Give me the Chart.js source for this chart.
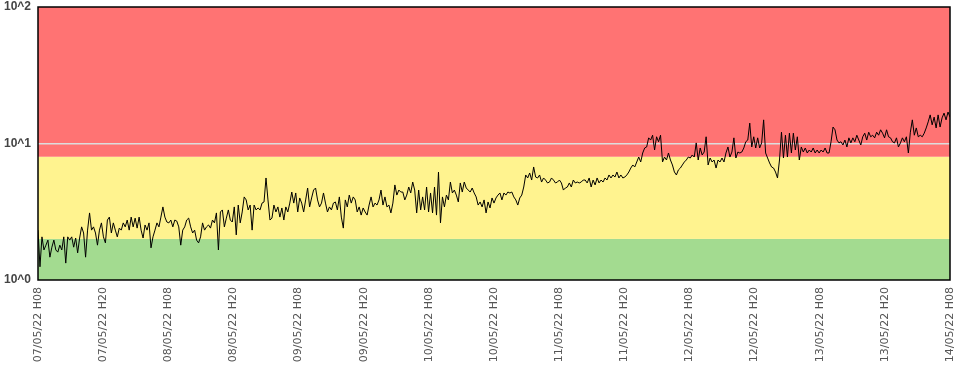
<!DOCTYPE html>
<html>
<head>
<meta charset="utf-8">
<script src="https://cdn.jsdelivr.net/npm/chart.js@4.4.1/dist/chart.umd.min.js"></script>
<style>
  html, body { margin: 0; padding: 0; background: #fff; }
  #wrap { width: 961px; height: 371px; }
</style>
</head>
<body>
<div id="wrap"><canvas id="myChart" width="961" height="371"></canvas></div>
<script>
// x axis: 7 days, a tick every 12 hours
const tickLabels = [
  '07/05/22 H08', '07/05/22 H20', '08/05/22 H08', '08/05/22 H20',
  '09/05/22 H08', '09/05/22 H20', '10/05/22 H08', '10/05/22 H20',
  '11/05/22 H08', '11/05/22 H20', '12/05/22 H08', '12/05/22 H20',
  '13/05/22 H08', '13/05/22 H20', '14/05/22 H08'
];
const totalHours = 168;

// background bands (value limits) and their colours
const bandLimits = [1, 2, 8, 100];
const bandColors = ['#a3db90', '#fff38f', '#ff7373'];

const values = [
  2.32, 1.25, 2.07, 1.66, 1.80, 1.96, 1.47, 1.74, 1.96, 1.66, 1.60, 1.80, 1.66, 2.07, 1.33, 2.07,
  1.96, 2.07, 1.74, 2.03, 1.58, 2.03, 2.45, 2.21, 1.47, 2.32, 3.10, 2.32, 2.45, 2.21, 1.80, 2.32,
  2.62, 2.07, 1.87, 2.75, 2.89, 2.21, 2.62, 2.32, 2.07, 2.40, 2.32, 2.62, 2.45, 2.75, 2.32, 2.89,
  2.45, 2.84, 2.40, 2.89, 2.32, 2.03, 2.53, 2.32, 2.62, 1.72, 2.07, 2.32, 2.62, 2.45, 2.89, 3.43,
  2.89, 2.66, 2.62, 2.75, 2.45, 2.75, 2.70, 2.45, 1.80, 2.32, 2.45, 2.75, 2.84, 2.45, 2.21, 2.32,
  1.96, 1.87, 2.07, 2.62, 2.32, 2.45, 2.53, 2.40, 2.75, 2.62, 3.10, 1.66, 3.15,
  3.26, 2.45, 2.84, 3.26, 2.75, 2.66, 3.43, 2.14, 3.54, 2.62, 3.15, 4.06, 3.86, 3.26, 3.54, 2.32,
  3.54, 3.26, 3.37, 3.26, 3.66, 3.73, 5.59, 3.86, 2.75, 2.84, 3.54, 3.15, 3.43, 2.89, 3.37, 2.75,
  3.43, 3.15, 3.66, 4.41, 3.66, 4.34, 3.15, 3.99, 3.66, 3.15, 3.86, 4.72, 3.43, 3.99, 4.56, 4.72,
  3.86, 3.43, 3.66, 4.34, 3.66, 3.15, 3.43, 3.26, 3.66, 3.73, 3.26, 4.06, 2.89, 2.40, 3.86, 3.43,
  4.19, 3.66, 4.06, 3.86, 3.15, 3.43, 2.99, 3.37, 3.15, 2.99, 3.54, 4.06, 3.43, 3.66, 3.54, 3.86,
  4.56, 3.54, 4.06, 3.43, 3.54, 3.10, 3.66, 4.97, 4.19, 4.56, 4.41,
  4.41, 3.86, 4.19, 4.80, 4.34, 5.22, 4.56, 3.10, 4.56, 3.26, 4.06, 3.26, 4.80, 3.15, 4.34, 3.10,
  4.80, 2.99, 6.18, 2.62, 4.06, 3.43, 4.19, 3.86, 5.22, 4.34, 4.56, 4.19, 3.73, 5.14, 4.41, 5.22,
  4.72, 4.56, 4.41, 4.72, 4.34, 4.06, 3.54, 3.73, 3.43, 3.86, 3.10, 3.73, 3.37, 3.99, 3.66, 3.99,
  4.19, 4.34, 3.86, 4.34, 4.19, 4.41, 4.34, 4.41, 4.06, 3.86, 3.54, 3.99, 4.19, 4.80, 5.88, 5.59,
  6.08, 5.40, 6.73, 5.68, 5.59, 5.88, 5.22, 5.59, 5.40, 5.14, 5.22, 5.59, 5.40, 5.14, 5.22, 5.40,
  5.14, 4.56, 4.72, 4.80, 5.14, 4.80, 5.40, 5.14, 5.22, 5.14, 5.22, 5.40,
  5.40, 5.14, 5.59, 4.80, 5.40, 4.97, 5.59, 5.14, 5.40, 5.22, 5.59, 5.40, 5.88, 5.59, 5.88, 5.68,
  6.18, 5.59, 5.88, 5.59, 5.68, 5.88, 6.18, 6.61, 6.96, 6.73, 7.32, 7.96, 7.32, 8.52, 9.27, 9.43,
  11.0, 10.6, 11.5, 8.96, 11.2, 10.3, 11.5, 7.32, 7.96, 7.57, 8.52, 7.57, 6.96, 6.18, 5.88, 6.40,
  6.61, 6.96, 7.32, 7.57, 7.96, 7.83, 8.24, 7.96, 10.1, 7.57, 9.27, 8.24, 8.66, 11.2, 6.96, 7.83,
  7.32, 7.57, 6.61, 7.57, 7.32, 7.83, 7.32, 8.52, 9.43, 7.96, 8.66, 11.0, 7.83, 8.66, 8.52, 8.66,
  9.27, 10.3, 10.6, 14.1, 9.43, 11.2, 9.27, 11.0, 9.27, 10.1, 14.9, 8.52,
  7.83, 7.20, 6.73, 6.61, 6.18, 5.59, 7.57, 12.1, 7.83, 11.5, 7.96, 11.9, 8.52, 11.9, 8.96, 11.2,
  7.57, 9.43, 8.66, 9.27, 8.52, 8.96, 8.66, 9.27, 8.52, 8.96, 8.52, 8.96, 8.66, 9.27, 8.52, 8.52,
  10.3, 13.2, 12.6, 10.6, 10.1, 10.3, 9.75, 10.6, 9.43, 11.0, 10.1, 11.0, 10.3, 11.5, 10.6, 9.75,
  11.2, 11.9, 10.6, 12.1, 11.2, 11.5, 11.0, 12.1, 11.5, 12.6, 11.9, 11.0, 12.6, 11.2, 11.0, 10.3,
  10.1, 11.0, 9.43, 10.1, 11.0, 10.3, 11.2, 8.52, 12.1, 14.9, 11.5, 13.0, 11.2, 11.5, 11.2, 11.9,
  13.0, 14.4, 16.2, 13.7, 15.6, 13.0, 16.2, 13.2, 15.4, 16.7, 14.9, 17.0, 15.6
];

const points = values.map((v, i) => ({ x: i * totalHours / (values.length - 1), y: v }));

const bandsPlugin = {
  id: 'bands',
  beforeDraw(chart) {
    const { ctx, chartArea, scales } = chart;
    ctx.save();
    for (let i = 0; i < bandColors.length; i++) {
      const yTop = scales.y.getPixelForValue(bandLimits[i + 1]);
      const yBot = scales.y.getPixelForValue(bandLimits[i]);
      ctx.fillStyle = bandColors[i];
      ctx.fillRect(chartArea.left, yTop, chartArea.right - chartArea.left, yBot - yTop);
    }
    ctx.restore();
  },
  afterDraw(chart) {
    // black frame round the plot
    const { ctx, chartArea } = chart;
    ctx.save();
    ctx.strokeStyle = '#000';
    ctx.lineWidth = 1.5;
    ctx.strokeRect(chartArea.left, chartArea.top, chartArea.right - chartArea.left, chartArea.bottom - chartArea.top);
    ctx.restore();
  }
};

new Chart(document.getElementById('myChart'), {
  type: 'line',
  data: {
    datasets: [{
      label: 'value',
      data: points,
      borderColor: '#000',
      borderWidth: 1,
      pointRadius: 0,
      tension: 0,
      fill: false
    }]
  },
  options: {
    responsive: false,
    animation: false,
    layout: { padding: { top: 7, right: 11, left: 0, bottom: 0 } },
    plugins: { legend: { display: false }, tooltip: { enabled: false } },
    scales: {
      x: {
        type: 'linear',
        min: 0,
        max: totalHours,
        grid: { display: false, drawTicks: false },
        border: { display: false },
        afterFit: (scale) => {
          scale.height = 91;
          scale.paddingLeft = 0;
          scale.paddingRight = 0;
        },
        ticks: {
          stepSize: 12,
          autoSkip: false,
          minRotation: 90,
          maxRotation: 90,
          padding: 7,
          color: '#555',
          font: { family: 'DejaVu Sans', size: 11 },
          callback: (v, i) => tickLabels[i]
        }
      },
      y: {
        type: 'logarithmic',
        min: 1,
        max: 100,
        afterBuildTicks: (scale) => { scale.ticks = [{ value: 1 }, { value: 10 }, { value: 100 }]; },
        afterFit: (scale) => {
          scale.width = 38;
          scale.paddingTop = 0;
          scale.paddingBottom = 0;
        },
        grid: {
          drawTicks: false,
          color: (c) => (c.tick && c.tick.value === 10) ? '#dddddd' : 'rgba(0,0,0,0)',
          lineWidth: 1.5
        },
        border: { display: false },
        ticks: {
          padding: 7,
          color: '#444',
          font: { family: 'Liberation Sans', size: 12, weight: 'bold' },
          callback: (v) => '10^' + Math.round(Math.log10(v))
        }
      }
    }
  },
  plugins: [bandsPlugin]
});
</script>
</body>
</html>
